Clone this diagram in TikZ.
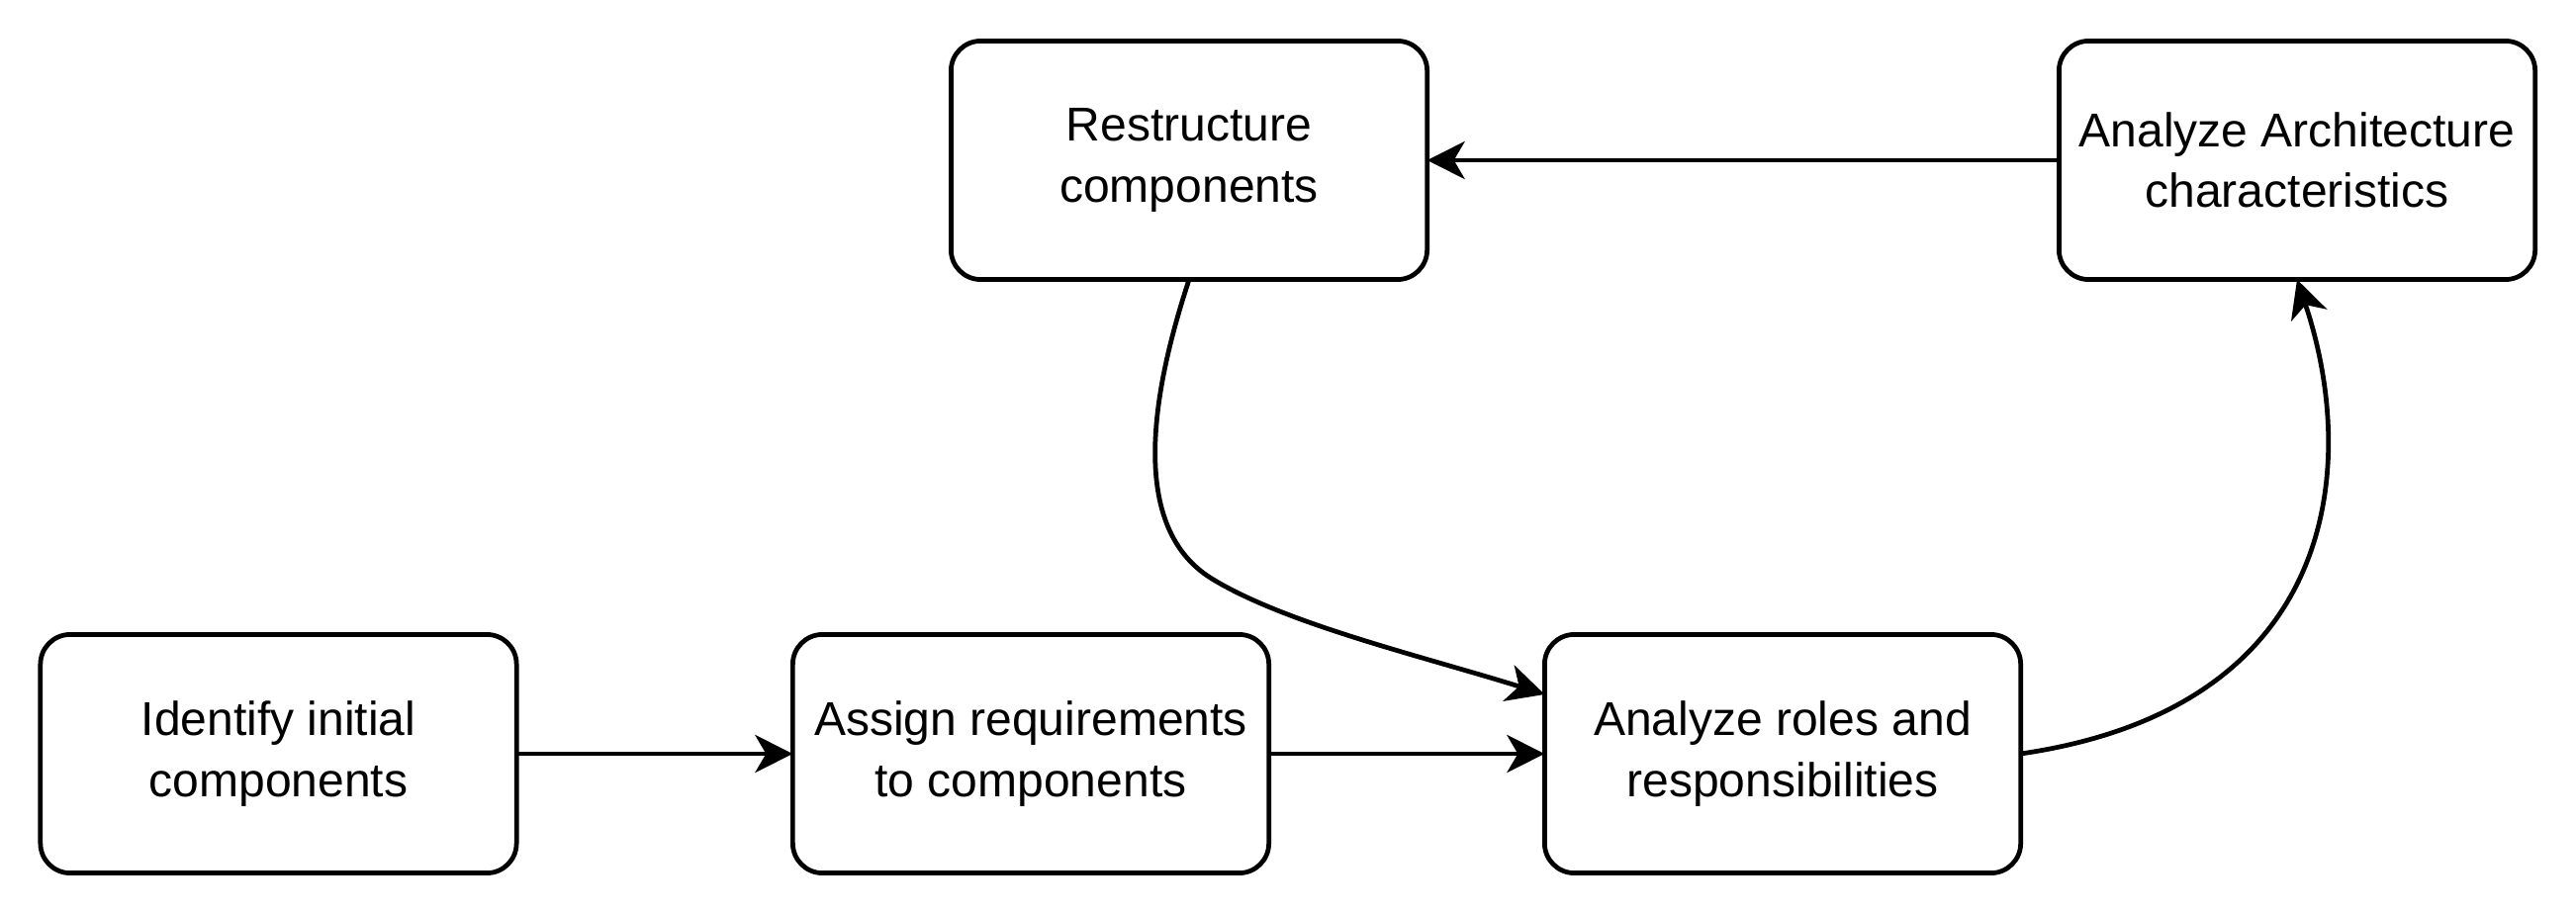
\documentclass[tikz,border=0pt]{standalone}
\usepackage{fontspec}
\setmainfont{Liberation Sans}
\usetikzlibrary{arrows.meta}
\begin{document}
\begin{tikzpicture}[x=0.01cm,y=-0.01cm,
  box/.style={draw, line width=1.35pt, rounded corners=0.3cm, minimum width=4.81cm, minimum height=2.41cm,
    align=center, font=\fontsize{13.66pt}{17.4pt}\selectfont, inner sep=0pt, outer sep=0pt},
  conn/.style={line width=1.35pt, -{Stealth[length=0.38cm,width=0.38cm,inset=0.11cm]}}]
\useasboundingbox (0,0) rectangle (2604,924);
\node[box] (A) at (281.5,762) {Identify initial\\components};
\node[box] (B) at (1042,762) {Assign requirements\\to components};
\node[box] (C) at (1802,762) {Analyze roles and\\responsibilities};
\node[box] (D) at (1202,162) {Restructure\\components};
\node[box] (E) at (2322,162) {Analyze Architecture\\characteristics};
\draw[conn] (A) -- (B);
\draw[conn] (B) -- (C);
\draw[conn] (E) -- (D);
\coordinate (Cin) at ([yshift=0.6cm]C.west);
\draw[conn] (D.south) .. controls (1170,380) and (1135,530) .. (1225,585)
  .. controls (1300,631) and (1440,664) .. (Cin);
\draw[conn] (C.east) .. controls (2365,715) and (2385,470) .. (E.south);
\end{tikzpicture}
\end{document}
